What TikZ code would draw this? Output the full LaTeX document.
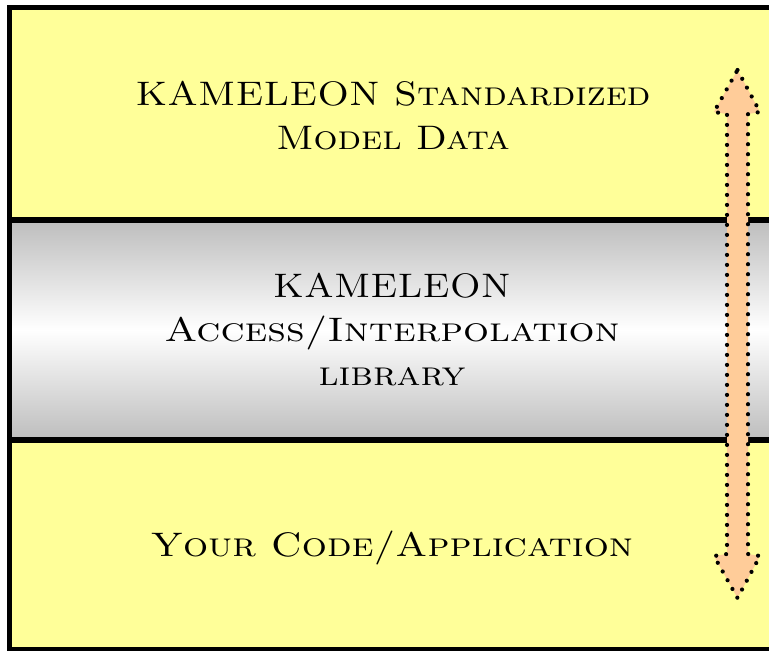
\documentclass[tikz,border=0pt]{standalone}
\usetikzlibrary{calc}
\usepackage{graphicx}
\definecolor{padyellow}{HTML}{FFFF99}
\definecolor{peach}{HTML}{FFCC99}
\definecolor{bandgrey}{HTML}{BDBDBD}
\newcommand{\widetxt}[2]{\scalebox{#1}[1]{#2}}
\tikzset{
  lbl/.style={font=\fontsize{34}{44}\selectfont\scshape, align=center, inner sep=0pt, text=black},
  sepline/.style={line width=5.5pt, black},
  dotline/.style={draw=black, line width=4.2pt, line cap=round, dash pattern=on 0pt off 10pt},
}
\begin{document}
\begin{tikzpicture}[x=1pt,y=-1pt]
\useasboundingbox (0,0) rectangle (769,651);
\begin{scope}
\clip (0,0) rectangle (769,651);
% bands
\fill[padyellow] (9,7) rectangle (800,220);
\shade[top color=bandgrey, bottom color=bandgrey, middle color=white] (9,220) rectangle (800,440);
\fill[padyellow] (9,440) rectangle (800,650);
% separators
\draw[sepline] (9,220) -- (800,220);
\draw[sepline] (9,440) -- (800,440);
% outer frame
\draw[line width=5.5pt] (9.5,7.5) rectangle (820,649.5);
% double arrow
\coordinate (tt) at (737.5,70);
\coordinate (bt) at (737.5,598);
\filldraw[fill=peach, dotline]
  (tt) -- (760,112) -- (748,114) -- (748,554) -- (760,556) -- (bt)
  -- (714,556) -- (727,554) -- (727,114) -- (714,112) -- cycle;
\end{scope}
% labels
\node[lbl] (top) at (393,116) {\widetxt{1.11}{KAMELEON Standardized}\\\widetxt{1.11}{Model Data}};
\node[lbl] (mid) at (392,330) {\widetxt{1.08}{KAMELEON}\\\widetxt{1.2}{Access/Interpolation}\\\widetxt{1.15}{library}};
\node[lbl] (bot) at (392,548) {\widetxt{1.16}{Your Code/Application}};
\end{tikzpicture}
\end{document}
